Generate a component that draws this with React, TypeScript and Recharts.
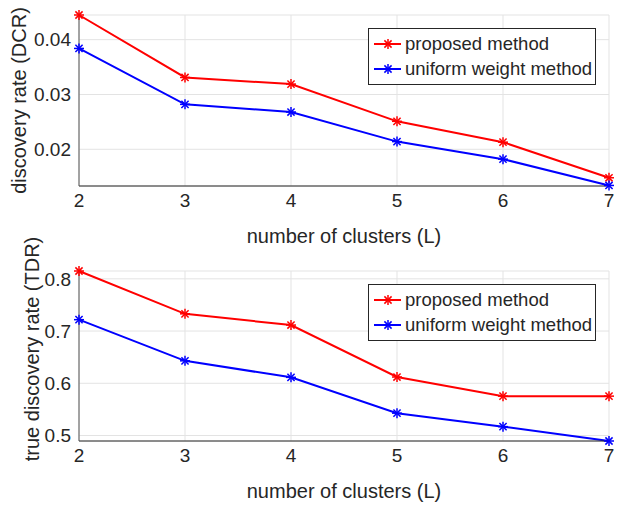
import { LineChart, Line, XAxis, YAxis, CartesianGrid, Legend } from 'recharts'

const clusters = [2, 3, 4, 5, 6, 7]
const seriesNames = ['proposed method', 'uniform weight method']
const seriesColors = ['#ff0000', '#0000ff']

// discovery rate (DCR)
const dcrProposed = [0.0445, 0.0331, 0.0319, 0.0251, 0.0213, 0.0148]
const dcrUniform = [0.0384, 0.0282, 0.0268, 0.0214, 0.0182, 0.0134]
const dcrTicks = [0.02, 0.03, 0.04]

// true discovery rate (TDR)
const tdrProposed = [0.815, 0.733, 0.7115, 0.612, 0.5754, 0.5754]
const tdrUniform = [0.7218, 0.643, 0.6114, 0.5428, 0.517, 0.4895]
const tdrTicks = [0.5, 0.6, 0.7, 0.8]

const FONT = '"Liberation Sans", Arial, Helvetica, sans-serif'
const TEXT = '#262626'

function Star(props: any) {
  const { cx, cy, stroke } = props
  if (cx == null || cy == null) return null
  const r = 5
  const d = 3.6
  return (
    <g stroke={stroke} strokeWidth={1.5}>
      <line x1={cx - r} y1={cy} x2={cx + r} y2={cy} />
      <line x1={cx} y1={cy - r} x2={cx} y2={cy + r} />
      <line x1={cx - d} y1={cy - d} x2={cx + d} y2={cy + d} />
      <line x1={cx - d} y1={cy + d} x2={cx + d} y2={cy - d} />
    </g>
  )
}

const renderStar = (p: any) => <Star key={`s-${p.index}`} {...p} />

function LegendBox(props: any) {
  const items = props.payload || []
  return (
    <div
      style={{
        border: `1px solid ${TEXT}`,
        background: '#fff',
        width: 226,
        height: 53,
        fontFamily: FONT,
        fontSize: 18.5,
        color: TEXT,
        boxSizing: 'content-box',
        paddingTop: 2,
      }}
    >
      {items.map((it: any) => (
        <div key={it.value} style={{ display: 'flex', alignItems: 'center', height: 25 }}>
          <svg width={32} height={14} style={{ marginLeft: 4 }}>
            <line x1={1} y1={7} x2={28} y2={7} stroke={it.color} strokeWidth={2} />
            <Star cx={15} cy={7} stroke={it.color} />
          </svg>
          <span style={{ lineHeight: '25px' }}>{it.value}</span>
        </div>
      ))}
    </div>
  )
}

function Panel(props: {
  top: number
  height: number
  marginTop: number
  xHeight: number
  a: number[]
  b: number[]
  domain: [number, number]
  ticks: number[]
  yLabel: string
  yLabelX: number
  yLabelShift: number
  legendTop: number
}) {
  const rows = clusters.map((x, i) => ({ x, a: props.a[i], b: props.b[i] }))
  return (
    <div style={{ position: 'absolute', left: 0, top: props.top }}>
      <LineChart
        width={621}
        height={props.height}
        data={rows}
        margin={{ top: props.marginTop, right: 12, bottom: 0, left: 0 }}
      >
        <CartesianGrid stroke="#e3e3e3" />
        <XAxis
          dataKey="x"
          type="number"
          domain={[2, 7]}
          ticks={clusters}
          height={props.xHeight}
          tickLine={false}
          axisLine={{ stroke: TEXT }}
          tick={{ fill: TEXT, fontSize: 19, fontFamily: FONT }}
          label={(lp: any) => {
            const vb = lp.viewBox
            return (
              <text
                x={vb.x + vb.width / 2}
                y={vb.y + 50}
                textAnchor="middle"
                dominantBaseline="central"
                fill={TEXT}
                fontSize={20}
                fontFamily={FONT}
              >
                number of clusters (L)
              </text>
            )
          }}
        />
        <YAxis
          type="number"
          domain={props.domain}
          ticks={props.ticks}
          width={79}
          tickLine={false}
          axisLine={{ stroke: '#555' }}
          tick={{ fill: TEXT, fontSize: 19, fontFamily: FONT }}
          label={(lp: any) => {
            const vb = lp.viewBox
            const cy = vb.y + vb.height / 2 + props.yLabelShift
            return (
              <text
                x={props.yLabelX}
                y={cy}
                transform={`rotate(-90 ${props.yLabelX} ${cy})`}
                textAnchor="middle"
                dominantBaseline="central"
                fill={TEXT}
                fontSize={20}
                fontFamily={FONT}
              >
                {props.yLabel}
              </text>
            )
          }}
        />
        <Legend
          layout="vertical"
          align="center"
          verticalAlign="middle"
          content={<LegendBox />}
          wrapperStyle={{ top: props.legendTop, left: 368, width: 230 }}
        />
        <Line
          dataKey="a"
          name={seriesNames[0]}
          stroke={seriesColors[0]}
          strokeWidth={2}
          dot={renderStar}
          isAnimationActive={false}
        />
        <Line
          dataKey="b"
          name={seriesNames[1]}
          stroke={seriesColors[1]}
          strokeWidth={2}
          dot={renderStar}
          isAnimationActive={false}
        />
      </LineChart>
    </div>
  )
}

export default function App() {
  return (
    <div
      style={{
        position: 'absolute',
        left: 0,
        top: 0,
        width: 621,
        height: 506,
        background: '#fff',
        fontFamily: FONT,
      }}
    >
      <Panel
        top={0}
        height={250}
        marginTop={15}
        xHeight={64}
        a={dcrProposed}
        b={dcrUniform}
        domain={[0.0133, 0.0445]}
        ticks={dcrTicks}
        yLabel="discovery rate (DCR)"
        yLabelX={19}
        yLabelShift={0}
        legendTop={28}
      />
      <Panel
        top={225}
        height={281}
        marginTop={46}
        xHeight={65}
        a={tdrProposed}
        b={tdrUniform}
        domain={[0.4895, 0.815]}
        ticks={tdrTicks}
        yLabel="true discovery rate (TDR)"
        yLabelX={32}
        yLabelShift={-7}
        legendTop={59}
      />
    </div>
  )
}
